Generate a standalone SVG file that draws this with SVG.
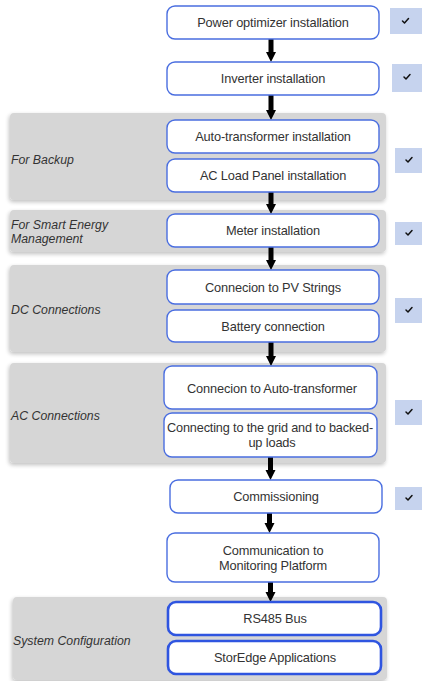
<svg xmlns="http://www.w3.org/2000/svg" width="424" height="681" viewBox="0 0 424 681">
<defs>
<filter id="sh" x="-5%" y="-10%" width="110%" height="125%">
<feGaussianBlur in="SourceAlpha" stdDeviation="2"/>
<feOffset dx="-1" dy="2" result="b"/>
<feComponentTransfer><feFuncA type="linear" slope="0.25"/></feComponentTransfer>
<feMerge><feMergeNode/><feMergeNode in="SourceGraphic"/></feMerge>
</filter>
</defs>
<style>
.band{fill:#d6d6d6;filter:url(#sh)}
.box{fill:#fff;stroke:#4a6ee0;stroke-width:1.4}
.boxb{fill:#fff;stroke:#2f55e0;stroke-width:2.6}
.t{font-family:"Liberation Sans",Arial,sans-serif;font-size:12.8px;fill:#333;text-anchor:middle;letter-spacing:-0.15px}
.g{font-family:"Liberation Sans",Arial,sans-serif;font-size:12.3px;fill:#333;font-style:italic}
.chk{fill:#c6d3ee}
.ck{fill:none;stroke:#111;stroke-width:1.5;stroke-linecap:round;stroke-linejoin:round}
.ar{fill:#000}
</style>
<rect width="424" height="681" fill="#fff"/>

<g id="group-backup">
<rect class="band" x="10" y="113" width="376" height="87" rx="4"/>
<text class="g" x="11" y="164">For Backup</text>
</g>
<g id="group-smart">
<rect class="band" x="10" y="210" width="376" height="42" rx="4"/>
<text class="g" x="11" y="229">For Smart Energy</text>
<text class="g" x="11" y="243">Management</text>
</g>
<g id="group-dc">
<rect class="band" x="10" y="265" width="376" height="87" rx="4"/>
<text class="g" x="11" y="314">DC Connections</text>
</g>
<g id="group-ac">
<rect class="band" x="10" y="363" width="376" height="100" rx="4"/>
<text class="g" x="11" y="420">AC Connections</text>
</g>
<g id="group-sys">
<rect class="band" x="13" y="597" width="374" height="83" rx="4"/>
<text class="g" x="13" y="645">System Configuration</text>
</g>

<g id="connectors">
<path class="ar" d="M268.5,39 H273.5 V52 H276 L271,62 L266,52 H268.5 Z"/>
<path class="ar" d="M268.5,95 H273.5 V110 H276 L271,120 L266,110 H268.5 Z"/>
<path class="ar" d="M268.5,192 H273.5 V204 H276 L271,214 L266,204 H268.5 Z"/>
<path class="ar" d="M268.5,247 H273.5 V260 H276 L271,270 L266,260 H268.5 Z"/>
<path class="ar" d="M268.5,342 H273.5 V356 H276 L271,366 L266,356 H268.5 Z"/>
<path class="ar" d="M268,457 H273 V470 H275.5 L270.5,480 L265.5,470 H268 Z"/>
<path class="ar" d="M267,513 H272 V523 H274.5 L269.5,533 L264.5,523 H267 Z"/>
<path class="ar" d="M268,582 H273 V592 H275.5 L270.5,602 L265.5,592 H268 Z"/>
</g>

<g id="n-power">
<rect class="box" x="167" y="6" width="212" height="33" rx="8"/>
<text class="t" x="273" y="27">Power optimizer installation</text>
</g>
<g id="n-inverter">
<rect class="box" x="167" y="62" width="212" height="33" rx="8"/>
<text class="t" x="273" y="83">Inverter installation</text>
</g>
<g id="n-autotrans">
<rect class="box" x="167" y="120" width="212" height="33" rx="8"/>
<text class="t" x="273" y="141">Auto-transformer installation</text>
</g>
<g id="n-acload">
<rect class="box" x="167" y="159" width="212" height="33" rx="8"/>
<text class="t" x="273" y="180">AC Load Panel installation</text>
</g>
<g id="n-meter">
<rect class="box" x="167" y="214" width="212" height="33" rx="8"/>
<text class="t" x="273" y="235">Meter installation</text>
</g>
<g id="n-pv">
<rect class="box" x="167" y="270" width="212" height="34" rx="8"/>
<text class="t" x="273" y="291.5">Connecion to PV Strings</text>
</g>
<g id="n-battery">
<rect class="box" x="167" y="310" width="212" height="32" rx="8"/>
<text class="t" x="273" y="330.5">Battery connection</text>
</g>
<g id="n-acauto">
<rect class="box" x="164" y="366" width="213" height="43" rx="8"/>
<text class="t" x="272" y="392.5">Connecion to Auto-transformer</text>
</g>
<g id="n-grid">
<rect class="box" x="164" y="413" width="213" height="44" rx="8"/>
<text class="t" x="270" y="431.5" textLength="206" lengthAdjust="spacingAndGlyphs">Connecting to the grid and to backed-</text>
<text class="t" x="272" y="446.5">up loads</text>
</g>
<g id="n-comm">
<rect class="box" x="170" y="480" width="212" height="33" rx="8"/>
<text class="t" x="276" y="501">Commissioning</text>
</g>
<g id="n-monitor">
<rect class="box" x="167" y="533" width="212" height="49" rx="8"/>
<text class="t" x="273" y="555">Communication to</text>
<text class="t" x="273" y="570">Monitoring Platform</text>
</g>
<g id="n-rs485">
<rect class="boxb" x="168" y="602" width="213" height="33" rx="8"/>
<text class="t" x="275" y="623">RS485 Bus</text>
</g>
<g id="n-storedge">
<rect class="boxb" x="168" y="641" width="213" height="33" rx="8"/>
<text class="t" x="275" y="662">StorEdge Applications</text>
</g>

<g id="checks">
<rect class="chk" x="390" y="8" width="32" height="26"/>
<path class="ck" d="M402.5,21 L404.5,23 L408.5,18.5"/>
<rect class="chk" x="392" y="64" width="30" height="28"/>
<path class="ck" d="M404,77 L406,79 L410,74.5"/>
<rect class="chk" x="395" y="148" width="27" height="25"/>
<path class="ck" d="M406,160 L408,162 L412,157.5"/>
<rect class="chk" x="395" y="222" width="27" height="23"/>
<path class="ck" d="M406,233 L408,235 L412,230.5"/>
<rect class="chk" x="395" y="298" width="27" height="25"/>
<path class="ck" d="M406,310 L408,312 L412,307.5"/>
<rect class="chk" x="395" y="400" width="27" height="25"/>
<path class="ck" d="M406,412 L408,414 L412,409.5"/>
<rect class="chk" x="395" y="487" width="27" height="23"/>
<path class="ck" d="M406,498 L408,500 L412,495.5"/>
</g>
</svg>
